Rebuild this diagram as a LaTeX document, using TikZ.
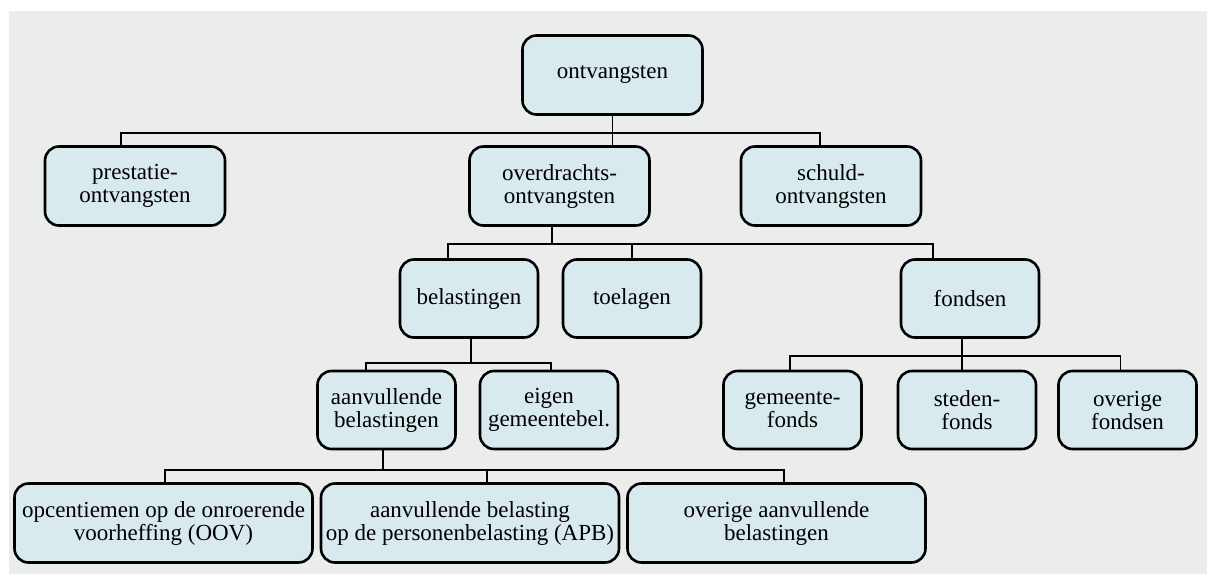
\documentclass[tikz,border=0pt]{standalone}
\usepackage{fontspec}
\setmainfont{Liberation Serif}
\usepackage{xcolor}
\usepackage{tikz}
\usetikzlibrary{positioning,calc}
\definecolor{panelgray}{RGB}{235, 236, 236}
\definecolor{boxblue}{RGB}{217, 234, 239}

\begin{document}
\begin{tikzpicture}[x=0.5pt, y=-0.5pt,
    box/.style={draw, line width=1.3pt, rounded corners=7pt, fill=boxblue, align=center,
        inner sep=2pt, font=\fontsize{11.5}{11.5}\selectfont},
    bigbox/.style={box, minimum width=90pt, minimum height=39.5pt},
    midbox/.style={box, minimum width=69pt, minimum height=39pt},
    widebox/.style={box, minimum width=149pt, minimum height=39.5pt},
    link/.style={draw, line width=0.85pt}]
    \useasboundingbox (0,0) rectangle (1207,574);
    \fill[panelgray] (9,11) rectangle (1207,574);
    % top
    \node[bigbox] (ontv) at (612.5,75) {ontvangsten};
    % second level
    \node[bigbox] (prest) at (135,186) {prestatie-\\ontvangsten};
    \node[bigbox] (overdr) at (559.5,186) {overdrachts-\\ontvangsten};
    \node[bigbox] (schuld) at (831,186) {schuld-\\ontvangsten};
    % overdrachtsontvangsten
    \node[midbox] (belast) at (469,298.5) {belastingen};
    \node[midbox] (toel) at (632,298.5) {toelagen};
    \node[midbox] (fonds) at (970,298.5) {fondsen};
    % belastingen
    \node[midbox] (aanv) at (386.5,410) {aanvullende\\belastingen};
    \node[midbox] (eigen) at (549,410) {eigen\\gemeentebel.};
    % fondsen
    \node[midbox] (gemf) at (792.5,410) {gemeente-\\fonds};
    \node[midbox] (stedf) at (967,410) {steden-\\fonds};
    \node[midbox] (ovfonds) at (1127.5,410) {overige\\fondsen};
    % aanvullende belastingen
    \node[widebox] (opc) at (163.5,523) {opcentiemen op de onroerende\\voorheffing (OOV)};
    \node[widebox] (apb) at (470,523) {aanvullende belasting\\op de personenbelasting (APB)};
    \node[widebox] (ovaanv) at (776.5,523) {overige aanvullende\\belastingen};
    % connectors
    \draw[link] (ontv.south) -- (ontv.south |- overdr.north);
    \draw[link] (ontv.south) -- ++(0,17) -| ([xshift=-7pt]prest.north);
    \draw[link] (ontv.south) -- ++(0,17) -| ([xshift=-5.5pt]schuld.north);
    \draw[link] ([xshift=-3.75pt]overdr.south) -- ++(0,17) -| ([xshift=-10.5pt]belast.north);
    \draw[link] ([xshift=-3.75pt]overdr.south) -- ++(0,17) -| (toel.north);
    \draw[link] ([xshift=-3.75pt]overdr.south) -- ++(0,17) -| ([xshift=-18.5pt]fonds.north);
    \draw[link] ([xshift=1pt]belast.south) -- ++(0,24) -| ([xshift=-10.25pt]aanv.north);
    \draw[link] ([xshift=1pt]belast.south) -- ++(0,24) -| ([xshift=1pt]eigen.north);
    \draw[link] ([xshift=-4pt]fonds.south) -- ++(0,17) -| ([xshift=-1.25pt]gemf.north);
    \draw[link] ([xshift=-4pt]fonds.south) -- ([xshift=-4pt]fonds.south |- stedf.north);
    \draw[link] ([xshift=-4pt]fonds.south) -- ++(0,17) -| ([xshift=-3.5pt]ovfonds.north);
    \draw[link] ([xshift=-1.75pt]aanv.south) -- ++(0,20) -| ([xshift=0.75pt]opc.north);
    \draw[link] ([xshift=-1.75pt]aanv.south) -- ++(0,20) -| ([xshift=8.5pt]apb.north);
    \draw[link] ([xshift=-1.75pt]aanv.south) -- ++(0,20) -| ([xshift=3.75pt]ovaanv.north);
\end{tikzpicture}
\end{document}
